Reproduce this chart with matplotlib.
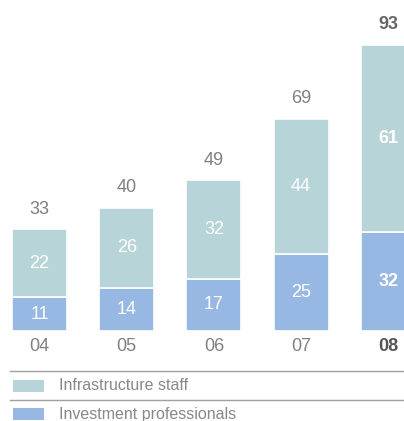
import matplotlib.pyplot as plt
from matplotlib.patches import Rectangle
from matplotlib.lines import Line2D

plt.rcParams['font.family'] = ['Liberation Sans', 'DejaVu Sans']

years = ['04', '05', '06', '07', '08']
investment = [11, 14, 17, 25, 32]
infrastructure = [22, 26, 32, 44, 61]
totals = [33, 40, 49, 69, 93]

teal = '#b7d5d8'
blue = '#96b8e2'
grey = '#808080'

W, H = 404, 421
fig = plt.figure(figsize=(W / 100, H / 100), dpi=100)

# bar area: baseline sits 331 px from the top
base = 331
ax = fig.add_axes([0, (H - base) / H, 1, base / H])
ax.set_xlim(-0.453, 4.18)
ax.set_ylim(0, 107.5)
ax.axis('off')

x = range(len(years))
w = 0.63
ax.bar(x, investment, w, color=blue, edgecolor='white', linewidth=1.2)
ax.bar(x, infrastructure, w, bottom=investment, color=teal,
       edgecolor='white', linewidth=1.2)

for i in x:
    last = i == len(years) - 1
    weight = 'bold' if last else 'normal'
    ax.text(i, investment[i] / 2, str(investment[i]), ha='center', va='center',
            color='white', fontsize=13, fontweight=weight)
    ax.text(i, investment[i] + infrastructure[i] / 2, str(infrastructure[i]),
            ha='center', va='center', color='white', fontsize=13, fontweight=weight)
    ax.text(i, totals[i] + 6.5, str(totals[i]), ha='center', va='center',
            color='#666666' if last else grey, fontsize=13, fontweight=weight)
    ax.text(i, -4.9, years[i], ha='center', va='center', clip_on=False,
            color='#555555' if last else grey, fontsize=13, fontweight=weight)

# legend block below the bars
def fy(py):
    return 1 - py / H

for py in (371, 400):
    fig.add_artist(Line2D([10 / W, 1], [fy(py), fy(py)], color='#a0a0a0', lw=1))

legend = [('Infrastructure staff', teal, 386), ('Investment professionals', blue, 414)]
for label, col, py in legend:
    fig.add_artist(Rectangle((13 / W, fy(py + 6)), 31 / W, 12 / H,
                             facecolor=col, edgecolor='none'))
    fig.text(59 / W, fy(py), label, ha='left', va='center',
             color='#888888', fontsize=11.5)

fig.savefig('out.png', dpi=100)
